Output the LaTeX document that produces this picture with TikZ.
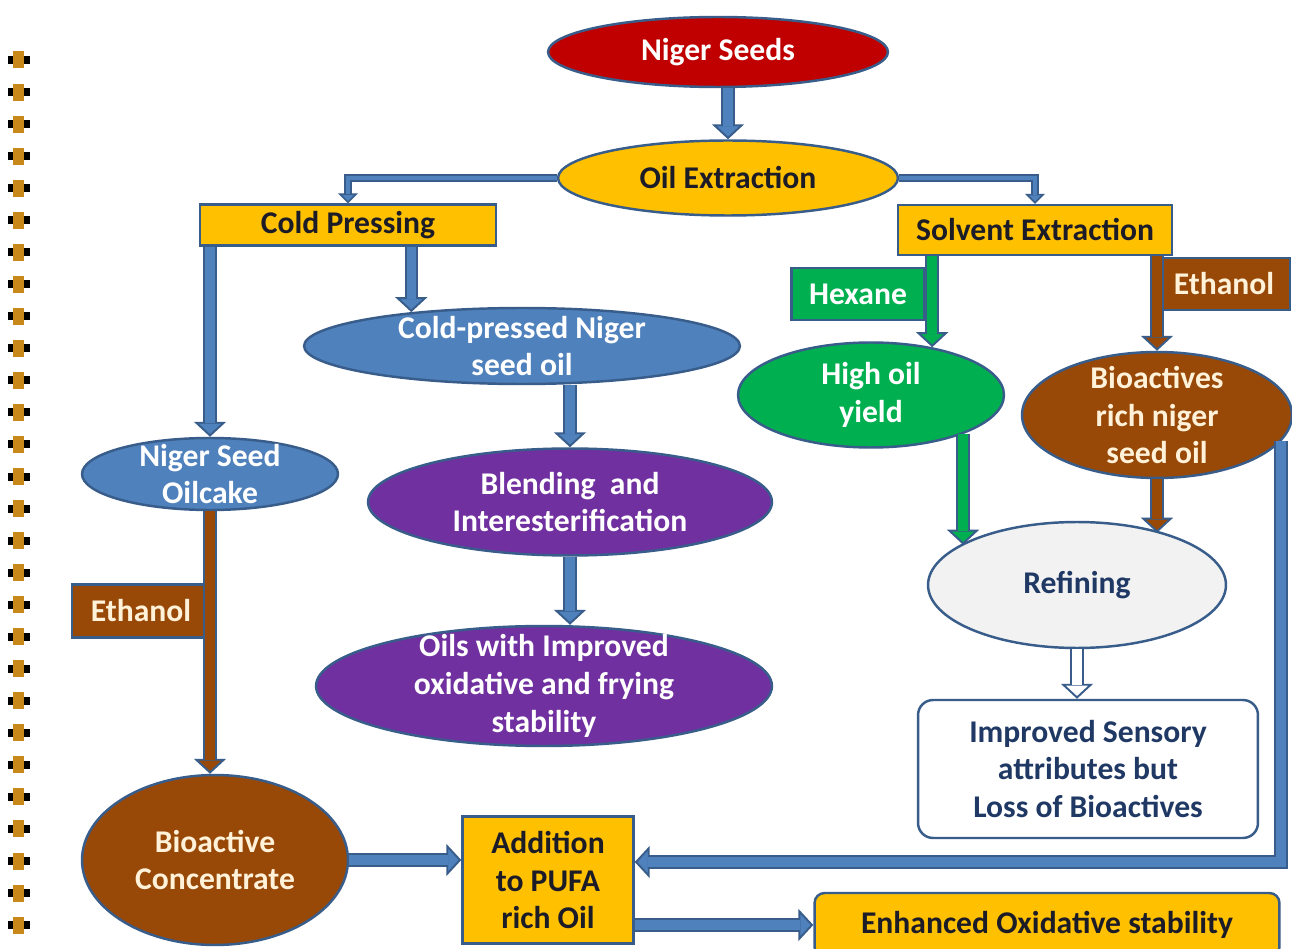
\documentclass[tikz,border=0pt]{standalone}
\usepackage{fontspec}
\setmainfont{Carlito}
\usetikzlibrary{positioning,arrows.meta,shapes.geometric}
\definecolor{edge}{HTML}{385D8A}
\definecolor{blk}{HTML}{4F81BD}
\definecolor{gold}{HTML}{FFC000}
\definecolor{crimson}{HTML}{C00000}
\definecolor{leaf}{HTML}{00B050}
\definecolor{bark}{HTML}{984807}
\definecolor{plum}{HTML}{7030A0}
\definecolor{mist}{HTML}{F2F2F2}
\definecolor{navy}{HTML}{1F3864}
\definecolor{ink}{HTML}{1C1C28}
\definecolor{cream}{HTML}{FFF2D9}
\definecolor{rust}{HTML}{C8891A}
\newcommand{\lbl}{\bfseries\fontsize{18}{21.5}\selectfont}

\begin{document}
\begin{tikzpicture}[x=0.02cm,y=-0.02cm,
  oval/.style={ellipse,draw=edge,line width=1.4pt,inner sep=-0.25cm,align=center,font=\lbl},
  tag/.style={rectangle,draw=edge,line width=1.4pt,inner sep=0pt,align=center,font=\lbl},
  flow/.style={draw=edge,line width=0.27cm,-{Triangle[length=0.3cm,width=0.64cm,line width=1.1pt,fill=#1]},
    postaction={draw=#1,line width=0.19cm,-,shorten >=0.27cm}},
  flow/.default=blk,
  feed/.style={draw=edge,line width=0.15cm,-{Triangle[length=0.2cm,width=0.4cm,line width=0.9pt,fill=blk]},
    postaction={draw=blk,line width=0.09cm,-,shorten >=0.18cm}}]
  \fill[white] (0,0) rectangle (1292,949);
  \useasboundingbox (0,0) rectangle (1292,949);
  % bullet column
  \foreach \i in {0,...,27}{
    \fill[black] (8,{60+32.04*\i-4}) rectangle (30,{60+32.04*\i+4});
    \fill[rust] (13,{60+32.04*\i-8.5}) rectangle (24,{60+32.04*\i+8.5});
  }
  % top
  \node[oval,fill=crimson,text=white,minimum width=6.8cm,minimum height=1.4cm] (ns) at (718,52) {Niger Seeds};
  \node[oval,fill=gold,text=ink,minimum width=6.8cm,minimum height=1.5cm] (oil) at (728,178) {Oil Extraction};
  \node[tag,fill=gold,text=ink,minimum width=5.92cm,minimum height=0.82cm] (cold) at (348,225) {Cold Pressing};
  \node[tag,fill=gold,text=ink,minimum width=5.48cm,minimum height=1cm] (se) at (1035,230) {Solvent Extraction};
  % solvent side
  \node[tag,fill=leaf,text=white,minimum width=2.66cm,minimum height=1.04cm] (hex) at (858,294) {Hexane};
  \node[tag,fill=bark,text=cream,minimum width=2.64cm,minimum height=1.04cm] (eth2) at (1224,284) {Ethanol};
  \node[oval,fill=leaf,text=white,minimum width=5.32cm,minimum height=2.1cm] (hy) at (871,395) {High oil\\yield};
  \node[oval,fill=bark,text=cream,minimum width=5.4cm,minimum height=2.52cm] (bio) at (1157,415) {Bioactives\\rich niger\\seed oil};
  \node[oval,fill=mist,text=navy,minimum width=5.96cm,minimum height=2.52cm] (ref) at (1077,585) {Refining};
  \node[tag,rounded corners=0.3cm,fill=white,text=navy,minimum width=6.8cm,minimum height=2.76cm] (imp) at (1088,769) {Improved Sensory\\attributes but\\Loss of Bioactives};
  % pressing side
  \node[oval,fill=blk,text=white,minimum width=8.72cm,minimum height=1.52cm] (cp) at (522,346) {Cold-pressed Niger\\seed oil};
  \node[oval,fill=blk,text=white,minimum width=5.12cm,minimum height=1.44cm] (oc) at (210,474) {Niger Seed\\Oilcake};
  \node[oval,fill=plum,text=white,minimum width=8.08cm,minimum height=2.14cm] (blend) at (570,502) {Blending~ and\\Interesterification};
  \node[oval,fill=plum,text=white,minimum width=9.12cm,minimum height=2.4cm] (oils) at (544,686) {Oils with Improved\\oxidative and frying\\stability};
  \node[tag,fill=bark,text=cream,minimum width=2.76cm,minimum height=1.06cm] (eth1) at (141,611) {Ethanol};
  \node[oval,fill=bark,text=cream,minimum width=5.32cm,minimum height=3.4cm] (bc) at (215,860) {Bioactive\\Concentrate};
  % bottom
  \node[tag,fill=gold,text=ink,minimum width=3.42cm,minimum height=2.54cm] (add) at (548,880) {Addition\\to PUFA\\rich Oil};
  \node[tag,rounded corners=0.2cm,fill=gold,text=ink,minimum width=9.3cm,minimum height=1.28cm] (enh) at (1047,925) {Enhanced Oxidative stability};
  \coordinate (ret) at (1278,862);
  % arrows
  \draw[flow] (ns.south -| oil.north) -- (oil.north);
  \draw[feed] (oil.west) -| (cold.north);
  \draw[feed] (oil.east) -| (se.north);
  \draw[flow] (cold.south -| oc.north) -- (oc.north);
  \draw[flow] (cold.south -| cp.163) -- (cp.163);
  \draw[flow] (cp.south -| blend.north) -- (blend.north);
  \draw[flow] (blend.south) -- (blend.south |- oils.north);
  \draw[flow=bark] (oc.south) -- (oc.south |- bc.north);
  \draw[flow] (bc.east) -- (bc.east -| add.west);
  \draw[flow] (add.east |- enh.west) -- (enh.west);
  \draw[flow=leaf] (se.south -| hy.38) -- (hy.38);
  \draw[flow=bark] (se.south -| bio.north) -- (bio.north);
  \draw[flow=leaf] (hy.-23) -- (hy.-23 |- ref.161);
  \draw[flow=bark] (bio.south) -- (bio.south |- ref.31);
  \draw[flow=white] (ref.south) -- (ref.south |- imp.north);
  \draw[flow] (bio.-12) |- (ret -| add.east);
\end{tikzpicture}
\end{document}
